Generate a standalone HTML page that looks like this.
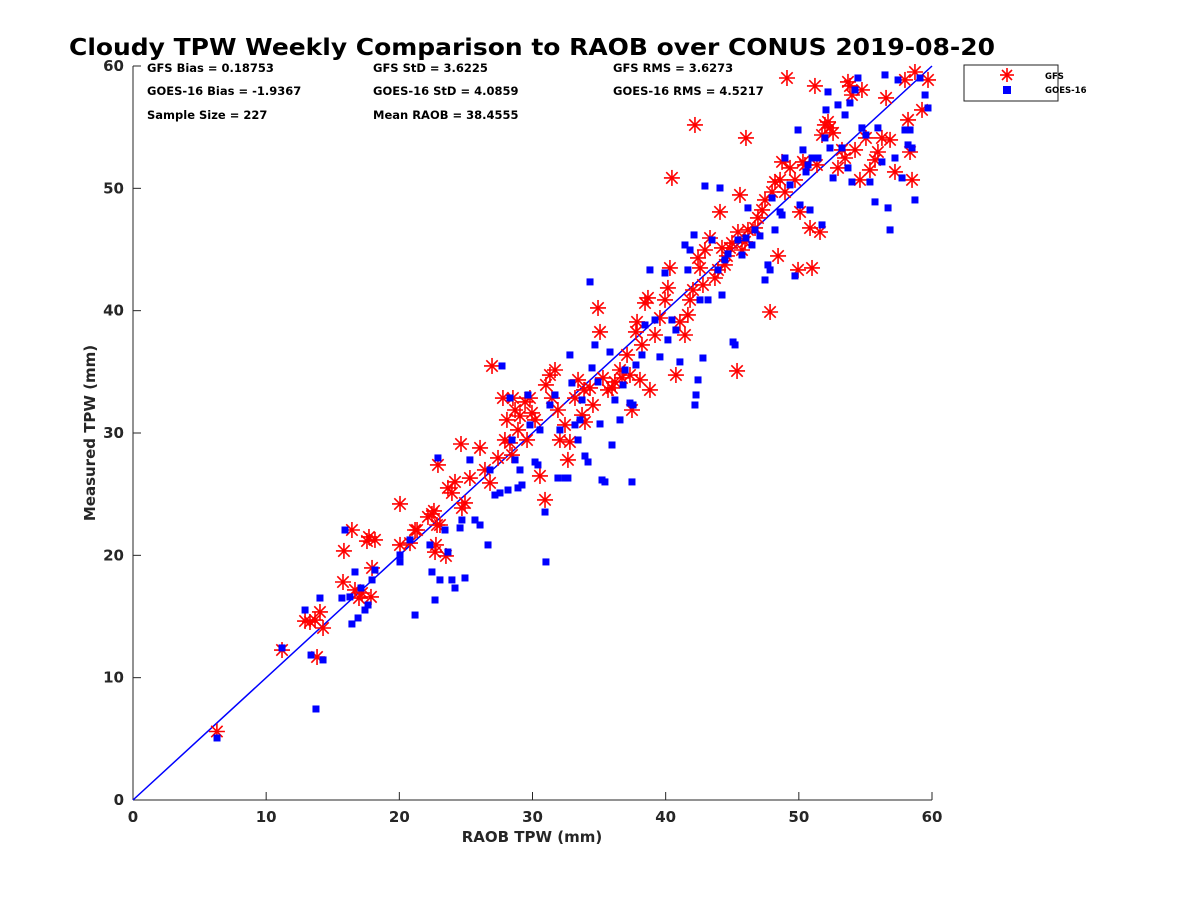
<!DOCTYPE html>
<html><head><meta charset="utf-8"><style>
body{margin:0;background:#fff;}
svg{display:block;font-family:"DejaVu Sans","Liberation Sans",sans-serif;}
</style></head><body>
<svg id="chart" width="1200" height="900" viewBox="0 0 1200 900">
<text x="532" y="55" text-anchor="middle" font-size="23" font-weight="bold" textLength="926" lengthAdjust="spacingAndGlyphs">Cloudy TPW Weekly Comparison to RAOB over CONUS 2019-08-20</text>
<g font-size="11.5" font-weight="bold">
<text x="147" y="72">GFS Bias = 0.18753</text><text x="373" y="72">GFS StD = 3.6225</text><text x="613" y="72">GFS RMS = 3.6273</text>
<text x="147" y="95">GOES-16 Bias = -1.9367</text><text x="373" y="95">GOES-16 StD = 4.0859</text><text x="613" y="95">GOES-16 RMS = 4.5217</text>
<text x="147" y="119">Sample Size = 227</text><text x="373" y="119">Mean RAOB = 38.4555</text>
</g>
<g>
<rect x="964" y="65" width="94" height="36" fill="#fff" stroke="#222" stroke-width="1"/>
<g stroke="red" stroke-width="1.6"><line x1="1007" y1="68" x2="1007" y2="82"/><line x1="1000" y1="75" x2="1014" y2="75"/><line x1="1002" y1="70" x2="1012" y2="80"/><line x1="1002" y1="80" x2="1012" y2="70"/></g>
<rect x="1003" y="86" width="8" height="8" fill="#0000ff"/>
<text x="1045" y="79" font-size="8.5" font-weight="bold">GFS</text>
<text x="1045" y="93" font-size="8.5" font-weight="bold">GOES-16</text>
</g>
<g id="axes"></g>
<g id="marks"></g>
<text x="532" y="842" text-anchor="middle" font-size="15" font-weight="bold" fill="#262626">RAOB TPW (mm)</text>
<text transform="translate(95,433) rotate(-90)" text-anchor="middle" font-size="15" font-weight="bold" fill="#262626">Measured TPW (mm)</text>
</svg>
<script>
const ticks=[0,10,20,30,40,50,60];
const gfsX=[6.3,11.19,12.92,13.29,13.67,14.04,13.82,14.27,15.77,15.84,16.44,16.67,16.97,17.2,17.57,17.72,17.87,17.95,18.17,20.05,20.05,20.8,21.18,21.33,22.15,22.45,22.68,22.75,22.83,22.9,22.6,23.05,23.5,23.65,23.95,24.18,24.63,24.7,24.93,25.3,26.06,26.43,26.81,26.96,27.41,27.78,27.93,28.08,28.31,28.46,28.53,28.69,28.91,29.06,29.44,29.59,29.81,29.96,30.19,30.56,30.94,31.01,31.31,31.46,31.69,31.91,32.06,32.44,32.66,32.81,33.19,33.42,33.72,33.87,33.94,34.32,34.54,34.92,35.07,35.29,35.67,35.97,36.19,36.57,36.72,37.1,37.32,37.47,37.77,37.85,38.07,38.22,38.45,38.67,38.82,39.2,39.57,39.95,40.17,40.32,40.47,40.77,41.07,41.45,41.67,41.83,42.05,42.2,42.43,42.58,42.8,42.95,43.33,43.7,43.93,44.08,44.23,44.45,44.6,44.83,44.98,45.43,45.58,45.73,45.96,46.18,45.36,46.03,46.71,46.93,47.24,47.46,47.84,47.99,48.21,48.44,48.59,48.74,48.96,49.11,49.34,49.71,49.94,50.09,50.31,50.46,50.84,50.99,51.21,51.36,51.59,51.74,51.96,52.19,52.34,52.57,52.94,53.24,53.47,53.69,53.84,53.99,54.22,54.59,54.74,55.04,55.34,55.72,55.94,56.24,56.55,56.85,57.22,57.97,58.2,58.35,58.5,58.72,59.25,59.7];
const gfsY=[5.6,12.26,14.63,14.55,14.71,15.37,11.69,14.06,17.82,20.36,22.07,17.17,16.51,16.92,21.17,21.5,16.6,18.97,21.26,24.2,20.85,21.0,22.07,22.07,23.14,23.38,20.27,20.85,22.48,27.39,23.63,22.48,19.95,25.51,25.1,26.0,29.1,23.87,24.28,26.32,28.78,26.98,25.92,35.48,27.96,32.86,29.43,31.07,29.19,28.2,32.86,31.88,30.25,31.39,32.54,29.43,32.86,31.64,31.07,26.49,24.53,33.93,34.74,32.86,35.15,31.88,29.43,30.66,27.8,29.27,32.86,34.34,31.47,33.52,30.9,33.68,32.29,40.22,38.26,34.5,33.52,33.68,34.17,35.15,34.5,36.38,34.74,31.88,38.26,39.08,34.34,37.2,40.63,41.04,33.52,38.01,39.4,40.88,41.86,43.49,50.85,34.74,39.08,38.01,39.65,40.88,41.69,55.18,44.31,43.49,42.1,44.96,45.94,42.67,43.33,48.07,45.13,43.74,44.47,45.13,45.53,46.43,49.46,44.96,45.62,46.6,35.07,54.12,46.76,47.58,48.23,49.05,39.89,49.7,50.52,44.47,50.69,52.16,49.7,59.02,51.67,50.69,43.33,48.07,52.16,51.91,46.76,43.49,58.37,51.91,46.43,54.36,55.18,55.43,54.94,54.53,51.67,53.14,52.48,58.7,58.37,57.63,53.14,50.69,58.04,54.12,51.5,52.32,52.97,54.12,57.39,53.96,51.34,58.86,55.59,52.97,50.69,59.51,56.41,58.86];
const goesX=[6.31,11.19,12.92,13.37,13.74,14.04,14.27,15.69,15.92,16.29,16.44,16.67,16.9,17.12,17.42,17.65,17.95,18.17,20.05,20.05,20.8,21.18,22.3,22.45,22.68,22.9,23.05,23.43,23.65,23.95,24.18,24.56,24.7,24.93,25.3,25.68,26.06,26.66,26.81,27.18,27.56,27.71,28.16,28.31,28.46,28.69,28.91,29.06,29.21,29.66,29.81,30.19,30.41,30.56,30.94,31.01,31.31,31.69,31.91,32.06,32.44,32.66,32.81,32.96,33.19,33.42,33.57,33.72,33.94,34.17,34.32,34.47,34.69,34.92,35.07,35.22,35.44,35.82,35.97,36.19,36.57,36.8,36.95,37.32,37.47,37.55,37.77,38.22,38.45,38.82,39.2,39.57,39.95,40.17,40.47,40.77,41.07,41.45,41.67,41.83,42.13,42.2,42.28,42.43,42.58,42.8,42.95,43.18,43.48,43.93,44.08,44.23,44.45,44.68,45.06,45.21,45.43,45.73,46.03,46.18,46.48,46.71,47.08,47.46,47.68,47.84,47.99,48.21,48.59,48.74,48.96,49.34,49.71,49.94,50.09,50.31,50.54,50.69,50.84,50.99,51.44,51.74,51.96,52.04,52.19,52.34,52.57,52.94,53.24,53.47,53.69,53.84,53.99,54.22,54.44,54.74,55.04,55.34,55.72,55.94,56.24,56.47,56.7,56.85,57.22,57.45,57.75,57.97,58.2,58.35,58.5,58.72,59.1,59.48,59.7];
const goesY=[5.07,12.43,15.53,11.85,7.44,16.51,11.45,16.51,22.07,16.6,14.39,18.64,14.88,17.33,15.53,15.94,17.99,18.8,20.03,19.46,21.26,15.12,20.85,18.64,16.35,27.96,17.99,22.07,20.27,17.99,17.33,22.24,22.89,18.15,27.8,22.89,22.48,20.85,26.98,24.93,25.1,35.48,25.34,32.86,29.43,27.8,25.51,26.98,25.75,33.11,30.66,27.63,27.39,30.25,23.54,19.46,32.29,33.11,26.32,30.25,26.32,26.32,36.38,34.09,30.66,29.43,31.07,32.7,28.12,27.63,42.35,35.32,37.2,34.17,30.74,26.16,26.0,36.62,29.02,32.7,31.07,33.93,35.15,32.45,26.0,32.29,35.56,36.38,38.83,43.33,39.24,36.22,43.08,37.61,39.24,38.42,35.81,45.37,43.33,44.96,46.19,32.29,33.11,34.34,40.88,36.13,50.19,40.88,45.78,43.33,50.03,41.28,44.15,44.64,37.44,37.2,45.78,44.55,45.94,48.4,45.37,46.6,46.11,42.51,43.74,43.33,49.21,46.6,48.07,47.82,52.48,50.28,42.84,54.77,48.64,53.14,51.34,51.91,48.23,52.48,52.48,47.01,54.12,56.41,57.88,53.3,50.85,56.82,53.3,56.0,51.67,56.98,50.52,58.04,59.02,54.94,54.36,50.52,48.89,54.94,52.16,59.27,48.4,46.6,52.48,58.86,50.85,54.77,53.55,54.77,53.3,49.05,59.02,57.63,56.57];
const NS='http://www.w3.org/2000/svg';
const X0=133,X1=932,Y0=800,Y1=66;
const sx=v=>X0+(v-ticks[0])/(ticks[ticks.length-1]-ticks[0])*(X1-X0);
const sy=v=>Y0-(v-ticks[0])/(ticks[ticks.length-1]-ticks[0])*(Y0-Y1);
function mk(tag,attrs,parent){const e=document.createElementNS(NS,tag);for(const k in attrs)e.setAttribute(k,attrs[k]);parent.appendChild(e);return e;}
const axes=document.getElementById('axes'),marks=document.getElementById('marks');
const xa=mk('line',{x1:X0,y1:Y0,x2:X1,y2:Y0,stroke:'#262626','stroke-width':1},axes);


const ya=mk('line',{x1:X0,y1:Y0,x2:X0,y2:Y1,stroke:'#262626','stroke-width':1},axes);


ticks.forEach(t=>{
  mk('line',{x1:sx(t),y1:Y0,x2:sx(t),y2:Y0-8,stroke:'#262626'},axes);
  mk('line',{x1:X0,y1:sy(t),x2:X0+8,y2:sy(t),stroke:'#262626'},axes);
  const tx=mk('text',{x:sx(t),y:Y0+22,'text-anchor':'middle','font-size':15,'font-weight':'bold',fill:'#262626'},axes);
  tx.textContent=t;
  
  
  const ty=mk('text',{x:X0-9,y:sy(t)+5,'text-anchor':'end','font-size':15,'font-weight':'bold',fill:'#262626'},axes);
  ty.textContent=t;
  
  
});
const ref=mk('line',{x1:sx(0),y1:sy(0),x2:sx(60),y2:sy(60),stroke:'#0000ff','stroke-width':1.5},marks);


gfsX.forEach((x,i)=>{
  const cx=sx(x),cy=sy(gfsY[i]),r=8,d=5.7;
  const g=mk('g',{stroke:'red','stroke-width':1.6},marks);
  
  
  mk('line',{x1:cx,y1:cy-r,x2:cx,y2:cy+r},g);
  mk('line',{x1:cx-r,y1:cy,x2:cx+r,y2:cy},g);
  mk('line',{x1:cx-d,y1:cy-d,x2:cx+d,y2:cy+d},g);
  mk('line',{x1:cx-d,y1:cy+d,x2:cx+d,y2:cy-d},g);
});
goesX.forEach((x,i)=>{
  const s=mk('rect',{x:sx(x)-3.5,y:sy(goesY[i])-3.5,width:7,height:7,fill:'#0000ff'},marks);
  
  
});
</script>
</body></html>
